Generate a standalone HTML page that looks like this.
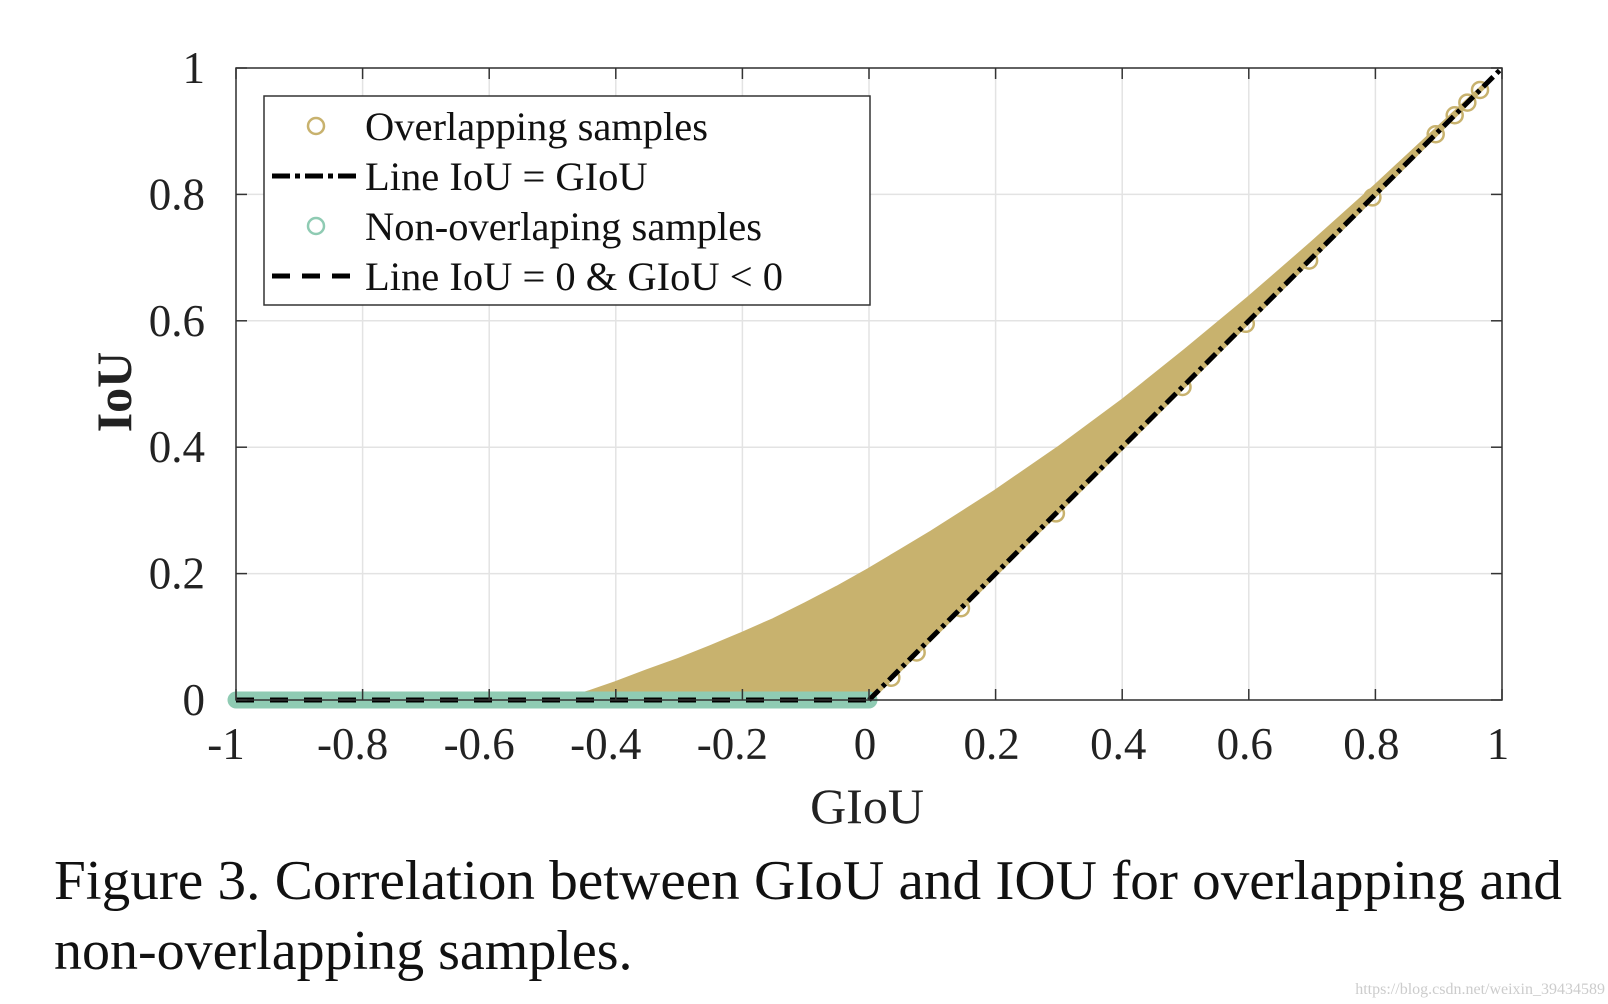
<!DOCTYPE html>
<html><head><meta charset="utf-8"><style>
html,body{margin:0;padding:0;background:#fff;}
svg{display:block;font-family:"Liberation Serif",serif;}
</style></head><body>
<svg id="chart" width="1608" height="1004" viewBox="0 0 1608 1004">
<g id="grid"></g>
<g id="marks"></g>
<g id="axes"></g>
<g>
  <rect x="264" y="96" width="606" height="209" fill="#fff" stroke="#333" stroke-width="1.5"/>
  <circle cx="316" cy="126" r="8" fill="none" stroke="#c8b26e" stroke-width="2.5"/>
  <text x="365" y="140" font-size="40.5" fill="#111">Overlapping samples</text>
  <line x1="272" y1="176" x2="358" y2="176" stroke="#000" stroke-width="5" stroke-dasharray="18,5,5,5"/>
  <text x="365" y="190" font-size="40.5" fill="#111">Line IoU = GIoU</text>
  <circle cx="316" cy="226" r="8" fill="none" stroke="#8fcbb3" stroke-width="2.5"/>
  <text x="365" y="240" font-size="40.5" fill="#111">Non-overlaping samples</text>
  <line x1="272" y1="276" x2="358" y2="276" stroke="#000" stroke-width="5" stroke-dasharray="18,12"/>
  <text x="365" y="290" font-size="40.5" fill="#111">Line IoU = 0 &amp; GIoU &lt; 0</text>
</g>
<text x="867" y="823" font-size="50" text-anchor="middle" fill="#222">GIoU</text>
<text x="0" y="0" font-size="50" font-weight="bold" text-anchor="middle" fill="#222" transform="translate(131,392) rotate(-90)">IoU</text>
<text x="54" y="899" font-size="56" fill="#111" textLength="1508" lengthAdjust="spacingAndGlyphs">Figure 3. Correlation between GIoU and IOU for overlapping and</text>
<text x="54" y="969" font-size="56" fill="#111">non-overlapping samples.</text>
<text x="1605" y="994" font-size="16" text-anchor="end" fill="#ccc">https://blog.csdn.net/weixin_39434589</text>
</svg>
<script>
const xTicks = [-1,-0.8,-0.6,-0.4,-0.2,0,0.2,0.4,0.6,0.8,1];
const xTickLabels = ["-1","-0.8","-0.6","-0.4","-0.2","0","0.2","0.4","0.6","0.8","1"];
const yTicks = [0,0.2,0.4,0.6,0.8,1];
const yTickLabels = ["0","0.2","0.4","0.6","0.8","1"];
const upperGiou = [-0.48,-0.44,-0.4,-0.35,-0.3,-0.25,-0.2,-0.15,-0.1,-0.05,0,0.05,0.1,0.15,0.2,0.3,0.4,0.5,0.6,0.7,0.8,0.9,0.97];
const upperIou = [0,0.012,0.026,0.045,0.063,0.083,0.104,0.126,0.151,0.177,0.205,0.235,0.265,0.297,0.329,0.398,0.472,0.552,0.635,0.722,0.812,0.905,0.97];
const diagGiou = [0,1];
const diagIou = [0,1];
const zeroGiou = [-1,0];
const zeroIou = [0,0];
const edgeMarkersGiou = [0.04,0.08,0.15,0.3,0.5,0.6,0.7,0.8,0.9,0.93,0.95,0.97];

const NS = "http://www.w3.org/2000/svg";
const X0 = 236, X1 = 1502, Y0 = 700, Y1 = 68;
function sx(v){ return X0 + (v + 1) / 2 * (X1 - X0); }
function sy(v){ return Y0 - v * (Y0 - Y1); }
function mk(tag, attrs, parent){
  const e = document.createElementNS(NS, tag);
  for (const k in attrs) e.setAttribute(k, attrs[k]);
  parent.appendChild(e);
  return e;
}
const grid = document.getElementById('grid');
const marks = document.getElementById('marks');
const axes = document.getElementById('axes');

xTicks.forEach((t, i) => {
  const g = mk('line', {x1: sx(t), x2: sx(t), y1: Y1, y2: Y0, stroke: '#e3e3e3', 'stroke-width': 1.5}, grid);
  
  
  const tk = mk('line', {x1: sx(t), x2: sx(t), y1: Y0, y2: Y0 - 11, stroke: '#333', 'stroke-width': 1.5}, axes);
  
  
  const tt = mk('line', {x1: sx(t), x2: sx(t), y1: Y1, y2: Y1 + 11, stroke: '#333', 'stroke-width': 1.5}, axes);
  
  
  const lb = mk('text', {x: sx(t) - (t < 0 ? 6 : 0) - 4, y: 759, 'font-size': 45, 'text-anchor': 'middle', fill: '#222'}, axes);
  lb.textContent = xTickLabels[i];
  
  
});
yTicks.forEach((t, i) => {
  const g = mk('line', {x1: X0, x2: X1, y1: sy(t), y2: sy(t), stroke: '#e3e3e3', 'stroke-width': 1.5}, grid);
  
  
  const tk = mk('line', {x1: X0, x2: X0 + 11, y1: sy(t), y2: sy(t), stroke: '#333', 'stroke-width': 1.5}, axes);
  
  
  const tr = mk('line', {x1: X1, x2: X1 - 11, y1: sy(t), y2: sy(t), stroke: '#333', 'stroke-width': 1.5}, axes);
  
  
  const lb = mk('text', {x: 205, y: sy(t) + 15, 'font-size': 45, 'text-anchor': 'end', fill: '#222'}, axes);
  lb.textContent = yTickLabels[i];
  
  
});
const box = mk('rect', {x: X0, y: Y1, width: X1 - X0, height: Y0 - Y1, fill: 'none', stroke: '#333', 'stroke-width': 1.5}, axes);



let pts = upperGiou.map((g, i) => sx(g) + ',' + sy(upperIou[i]));
for (let i = upperGiou.length - 1; i >= 0; i--) {
  const g = upperGiou[i];
  pts.push(sx(g) + ',' + sy(Math.max(0, g)));
}
const fill = mk('polygon', {points: pts.join(' '), fill: '#c8b26e', stroke: '#c8b26e', 'stroke-width': 5, 'stroke-linejoin': 'round'}, marks);


edgeMarkersGiou.forEach(g => {
  const c = mk('circle', {cx: sx(g) - 3, cy: sy(g) + 3, r: 8, fill: 'none', stroke: '#c8b26e', 'stroke-width': 2.5}, marks);
  
  
});
const band = mk('line', {x1: sx(zeroGiou[0]), x2: sx(zeroGiou[1]), y1: sy(zeroIou[0]), y2: sy(zeroIou[1]), stroke: '#8fcbb3', 'stroke-width': 17, 'stroke-linecap': 'round'}, marks);


const zl = mk('line', {x1: sx(zeroGiou[0]), x2: sx(zeroGiou[1]), y1: sy(zeroIou[0]), y2: sy(zeroIou[1]), stroke: '#000', 'stroke-width': 5, 'stroke-dasharray': '18,16'}, marks);


const dl = mk('line', {x1: sx(diagGiou[0]), x2: sx(diagGiou[1]), y1: sy(diagIou[0]), y2: sy(diagIou[1]), stroke: '#000', 'stroke-width': 5, 'stroke-dasharray': '14,5,4,5'}, marks);


</script>
</body></html>
